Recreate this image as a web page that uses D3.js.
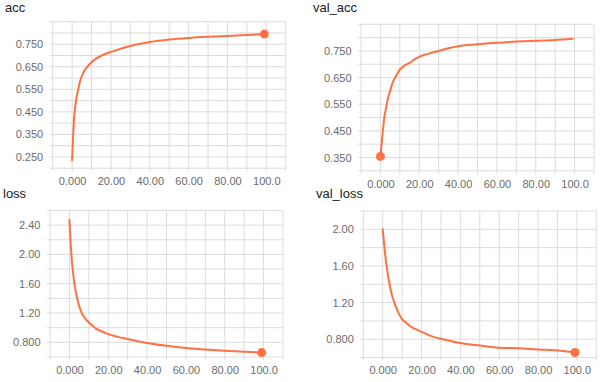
<!DOCTYPE html>
<html>
<head>
<meta charset="utf-8">
<script src="https://cdn.jsdelivr.net/npm/d3@7"></script>
<style>
  html, body { margin: 0; padding: 0; background: #fff; }
  svg { display: block; }
</style>
</head>
<body>
<svg id="chart" width="600" height="382"></svg>
<script>
// ---- data ----
const accEpochs = [0,1,2,3,4,5,6,8,10,12,15,18,20,25,30,35,40,50,60,70,80,90,99];
const accValues = [0.235,0.42,0.50,0.545,0.583,0.608,0.628,0.652,0.670,0.684,0.699,0.710,0.716,0.730,0.742,0.752,0.760,0.771,0.778,0.783,0.787,0.791,0.795];

const valAccEpochs = [0,1,2,3,4,5,6,8,10,12,15,18,20,25,30,35,40,50,60,70,80,90,99];
const valAccValues = [0.354,0.43,0.50,0.54,0.575,0.60,0.625,0.655,0.68,0.693,0.705,0.72,0.728,0.74,0.75,0.76,0.768,0.775,0.781,0.785,0.788,0.791,0.796];

const lossEpochs = [0,1,2,3,4,5,6,8,10,12,14,17,20,25,30,35,40,50,60,70,80,90,99];
const lossValues = [2.47,2.0,1.72,1.53,1.40,1.30,1.22,1.13,1.07,1.025,0.985,0.945,0.912,0.875,0.845,0.815,0.792,0.752,0.722,0.702,0.684,0.67,0.66];

const valLossEpochs = [0,1,2,3,4,5,6,8,10,12,15,18,20,25,30,35,40,50,60,70,80,90,99];
const valLossValues = [2.0,1.78,1.6,1.46,1.35,1.26,1.20,1.09,1.02,0.98,0.93,0.90,0.88,0.833,0.805,0.78,0.758,0.73,0.706,0.70,0.687,0.677,0.655];

const titles = ["acc", "val_acc", "loss", "val_loss"];
const xTicks = [0, 20, 40, 60, 80, 100];
const accYTicks = [0.25, 0.35, 0.45, 0.55, 0.65, 0.75];
const valAccYTicks = [0.35, 0.45, 0.55, 0.65, 0.75];
const lossYTicks = [0.8, 1.2, 1.6, 2.0, 2.4];
const valLossYTicks = [0.8, 1.2, 1.6, 2.0];

// ---- layout ----
const panels = [
  {title: titles[0], ex: accEpochs, vals: accValues, yDom: [0.2, 0.85], yTicks: accYTicks, yGrid: 0.05,
   left: 52.7, top: 21.7, dot: "end", titleX: 5, titleY: 12, clipBottom: null},
  {title: titles[1], ex: valAccEpochs, vals: valAccValues, yDom: [0.3, 0.85], yTicks: valAccYTicks, yGrid: 0.05,
   left: 361, top: 24.3, dot: "start", titleX: 313, titleY: 12, clipBottom: 188},
  {title: titles[2], ex: lossEpochs, vals: lossValues, yDom: [0.6, 2.6], yTicks: lossYTicks, yGrid: 0.2,
   left: 50, top: 210.5, dot: "end", titleX: 3, titleY: 197.5, clipBottom: null},
  {title: titles[3], ex: valLossEpochs, vals: valLossValues, yDom: [0.6, 2.2], yTicks: valLossYTicks, yGrid: 0.2,
   left: 363.3, top: 211, dot: "end", titleX: 316, titleY: 198, clipBottom: null}
];
const W = 233, H = 146.5;
const lineColor = "#ff7043";
const gridColor = "#dcdcdc";
const labelColor = "#6b6b6b";
const font = "'Liberation Sans', Arial, sans-serif";

const svg = d3.select("#chart");
const defs = svg.append("defs");

panels.forEach((p, i) => {
  const root = svg.append("g");
  if (p.clipBottom) {
    defs.append("clipPath").attr("id", "clip" + i)
      .append("rect").attr("x", 300).attr("y", 0).attr("width", 300).attr("height", p.clipBottom);
    root.attr("clip-path", `url(#clip${i})`);
  }
  const g = root.append("g").attr("transform", `translate(${p.left},${p.top})`);
  const x = d3.scaleLinear().domain([-10, 110]).range([0, W]);
  const y = d3.scaleLinear().domain(p.yDom).range([H, 0]);

  // vertical gridlines every 10
  const xGrid = d3.range(-10, 110.001, 10);
  g.selectAll(".vg").data(xGrid).join("line")
    .attr("x1", d => x(d)).attr("x2", d => x(d))
    .attr("y1", 0).attr("y2", H + 3)
    .attr("stroke", gridColor).attr("stroke-width", 1);
  // horizontal gridlines
  const n = Math.round((p.yDom[1] - p.yDom[0]) / p.yGrid);
  const yGrid = d3.range(0, n + 1).map(k => p.yDom[0] + k * p.yGrid);
  g.selectAll(".hg").data(yGrid).join("line")
    .attr("x1", -3).attr("x2", W)
    .attr("y1", d => y(d)).attr("y2", d => y(d))
    .attr("stroke", gridColor).attr("stroke-width", 1);

  // axes labels via d3 axes
  const xAxis = d3.axisBottom(x).tickValues(xTicks).tickFormat(d3.format(".4r")).tickSize(0).tickPadding(9);
  const gx = g.append("g").attr("transform", `translate(0,${H})`).call(xAxis);
  gx.select(".domain").remove();
  gx.selectAll("text").attr("fill", labelColor).style("font-family", font).style("font-size", "11px");

  const yAxis = d3.axisLeft(y).tickValues(p.yTicks).tickFormat(d3.format(".3r")).tickSize(0).tickPadding(9.5);
  const gy = g.append("g").call(yAxis);
  gy.select(".domain").remove();
  gy.selectAll("text").attr("fill", labelColor).style("font-family", font).style("font-size", "11px");

  // line
  const pts = p.ex.map((e, k) => [e, p.vals[k]]);
  const line = d3.line().x(d => x(d[0])).y(d => y(d[1])).curve(d3.curveMonotoneX);
  g.append("path").datum(pts).attr("d", line)
    .attr("fill", "none").attr("stroke", lineColor).attr("stroke-width", 2)
    .attr("stroke-linejoin", "round").attr("stroke-linecap", "round");
  const dp = p.dot === "end" ? pts[pts.length - 1] : pts[0];
  g.append("circle").attr("cx", x(dp[0])).attr("cy", y(dp[1])).attr("r", 4.5).attr("fill", lineColor);

  // title
  svg.append("text").attr("x", p.titleX).attr("y", p.titleY).text(p.title)
    .attr("fill", "#212121").style("font-family", font).style("font-size", "13px");
});
</script>
</body>
</html>
